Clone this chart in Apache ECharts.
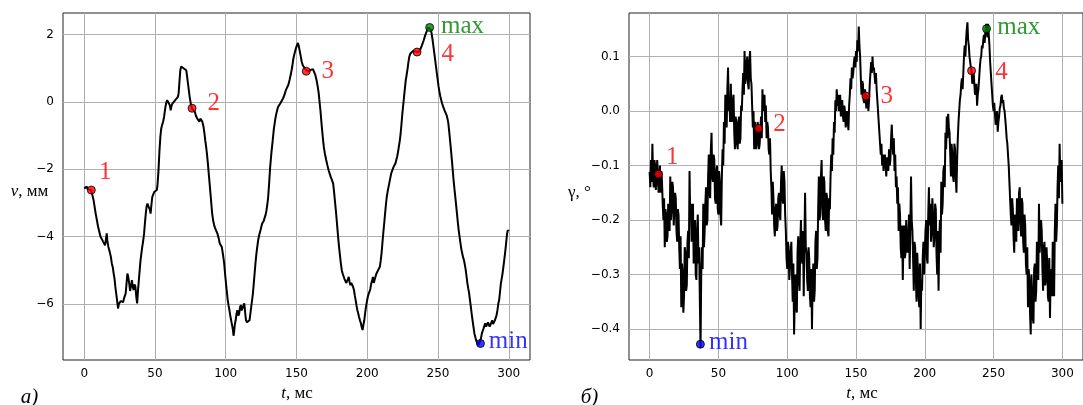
<!DOCTYPE html>
<html><head><meta charset="utf-8">
<script src="https://cdn.jsdelivr.net/npm/echarts@6/dist/echarts.min.js"></script>
<style>html,body{margin:0;padding:0;background:#fff}#c{width:1083px;height:405px}</style>
</head><body><div id="c"></div>
<script>
// ---------- DATA ----------
const xTicks = [0, 50, 100, 150, 200, 250, 300];
const leftYTicks = [-6, -4, -2, 0, 2];
const rightYTicks = [-0.4, -0.3, -0.2, -0.1, 0.0, 0.1];

// left panel: v (mm) vs t (ms)
const leftT = [0,1,1.8,2.5,3.2,4.9,6.6,8.1,9.8,11.5,12.5,13.4,14.2,14.7,15.3,15.9,16.4,17.1,18.0,18.8,19.5,20.2,20.8,21.4,22.0,22.6,23.2,23.9,24.5,25.2,25.8,26.9,27.5,28.1,28.8,29.3,29.9,30.5,31.1,31.8,32.4,33.0,33.7,34.3,34.9,35.5,36.2,36.8,37.4,38.0,38.6,39.2,39.8,40.4,41.0,41.6,42.3,42.9,43.5,44.1,44.7,45.3,45.9,46.4,46.9,47.5,48.1,48.8,49.6,50.4,51.3,51.8,52.5,53.1,53.8,54.4,55.0,55.7,56.4,56.9,57.4,58.0,58.6,59.3,59.9,60.5,61.1,61.7,62.3,63.3,64.3,65.5,66.2,66.7,67.3,67.9,68.5,69.1,69.8,70.4,71.2,72.1,72.7,73.3,73.9,74.5,75.3,76.2,77.2,78.2,79.0,79.9,80.6,81.4,82.0,82.6,83.4,84.3,84.9,85.5,86.1,86.7,87.3,88.0,88.6,89.2,89.8,90.4,91.2,92.1,93.1,94.1,95.0,95.8,96.5,97.2,98.0,98.9,99.5,100.2,100.8,101.4,102.0,102.6,103.2,103.8,104.4,105.1,105.5,105.8,106.4,107.0,107.6,108.2,108.9,109.5,110.1,110.7,111.3,111.9,112.5,113.1,113.7,114.3,115.0,115.6,116.2,116.8,117.4,118.0,118.6,119.2,119.8,120.4,121.0,121.7,122.3,122.9,123.7,124.6,125.2,125.8,126.7,127.5,128.2,128.8,129.4,130.0,130.7,131.4,132.3,133.2,134.0,134.9,135.6,136.3,137.0,137.6,138.5,139.3,140.2,141.0,141.8,142.5,143.4,144.2,145.1,146.1,147.0,147.8,148.7,149.5,150.3,151.0,151.6,152.2,153.0,153.7,154.5,155.2,156.2,157.1,158.1,159.1,160.0,160.8,161.6,162.5,163.3,164.2,165.0,165.7,166.3,166.9,167.5,168.1,168.7,169.3,170.1,171.0,171.8,172.7,173.5,174.2,175.0,175.9,176.5,177.1,177.8,178.4,179.0,179.6,180.2,180.8,181.4,182.0,182.6,183.2,183.8,184.5,185.1,185.7,186.3,186.9,187.5,188.1,188.7,189.3,190.0,190.6,191.2,191.8,192.4,193.0,193.6,194.2,194.9,195.5,196.1,196.7,197.3,197.9,198.5,199.1,199.8,200.4,201.0,201.6,202.2,202.8,203.4,204.0,204.6,205.2,205.9,206.5,207.1,207.7,208.3,208.9,209.5,210.1,210.7,211.3,212.0,212.6,213.2,213.8,214.6,215.5,216.2,216.9,217.8,218.6,219.2,219.9,220.5,221.1,221.7,222.3,223.0,223.6,224.2,224.8,225.4,226.0,226.6,227.2,227.9,228.5,229.1,229.7,230.5,231.4,232.4,233.4,234.3,235.1,235.8,236.5,237.4,238.2,239.0,239.9,240.6,241.4,242.2,243.1,243.7,244.3,244.9,245.5,246.2,246.8,247.4,248.0,248.6,249.2,249.8,250.4,251.0,251.7,252.3,252.9,253.7,254.6,255.3,256.1,256.7,257.3,257.9,258.5,259.2,259.8,260.4,261.0,261.6,262.2,262.8,263.4,264.0,264.6,265.2,265.9,266.5,267.1,267.7,268.3,269.0,269.6,270.2,270.8,271.4,272.0,272.6,273.2,273.8,274.4,275.1,275.7,276.3,276.9,277.5,278.1,278.7,279.3,279.8,280.4,281.0,281.6,282.2,282.8,283.4,284.0,284.6,285.3,285.9,286.5,287.1,287.7,288.3,288.9,289.5,290.1,290.7,291.3,292.0,292.6,293.2,293.8,294.4,295.0,295.6,296.2,296.8,297.5,298.1,298.7,299.3,300.0];
const leftV = [-2.57,-2.55,-2.52,-2.60,-2.55,-2.62,-2.92,-3.32,-3.71,-4.01,-4.08,-4.16,-4.12,-4.26,-4.10,-3.91,-4.15,-4.31,-4.45,-4.60,-4.80,-4.92,-5.10,-5.25,-5.50,-5.70,-5.89,-6.14,-6.00,-5.99,-5.92,-5.89,-5.95,-5.84,-5.80,-5.69,-5.40,-5.10,-5.20,-5.40,-5.62,-5.59,-5.30,-5.50,-5.59,-5.42,-5.50,-5.80,-5.99,-5.60,-5.30,-5.00,-4.70,-4.50,-4.31,-4.15,-3.91,-3.60,-3.32,-3.10,-3.02,-3.10,-3.07,-3.20,-3.32,-3.05,-2.82,-2.75,-2.67,-2.66,-2.62,-2.45,-2.03,-1.50,-1.04,-0.80,-0.69,-0.60,-0.45,-0.30,-0.15,-0.02,0.05,0.06,0.07,-0.10,-0.25,-0.12,-0.05,0.00,0.05,0.10,0.15,0.25,0.60,0.94,1.05,1.09,1.02,0.99,0.97,0.94,0.75,0.55,0.35,0.15,-0.05,-0.20,-0.25,-0.30,-0.42,-0.50,-0.55,-0.59,-0.50,-0.45,-0.58,-0.74,-0.92,-1.14,-1.32,-1.53,-1.80,-2.13,-2.42,-2.72,-3.02,-3.32,-3.55,-3.71,-3.82,-3.91,-4.05,-4.21,-4.26,-4.31,-4.52,-4.80,-5.10,-5.40,-5.65,-5.89,-6.05,-6.19,-6.35,-6.49,-6.62,-6.78,-6.95,-6.88,-6.62,-6.49,-6.30,-6.19,-6.35,-6.29,-6.10,-6.04,-6.20,-6.24,-6.05,-5.99,-6.25,-6.49,-6.55,-6.58,-6.60,-6.49,-6.30,-6.09,-5.90,-5.69,-5.40,-5.10,-4.80,-4.50,-4.30,-4.11,-3.95,-3.81,-3.70,-3.61,-3.55,-3.51,-3.35,-3.22,-3.05,-2.82,-2.40,-1.93,-1.50,-1.14,-0.80,-0.54,-0.38,-0.25,-0.15,-0.10,-0.05,0.00,0.08,0.15,0.25,0.35,0.43,0.50,0.65,0.84,1.05,1.29,1.45,1.58,1.68,1.75,1.66,1.53,1.35,1.19,1.08,1.04,0.98,0.93,0.90,0.89,0.95,0.99,0.97,0.94,0.80,0.64,0.45,0.25,0.00,-0.25,-0.55,-0.84,-1.10,-1.34,-1.55,-1.73,-1.88,-2.03,-2.14,-2.23,-2.32,-2.43,-2.65,-2.92,-3.22,-3.51,-3.81,-4.11,-4.36,-4.60,-4.82,-5.00,-5.10,-5.15,-5.25,-5.20,-5.38,-5.35,-5.28,-5.20,-5.35,-5.45,-5.38,-5.40,-5.50,-5.59,-5.75,-5.89,-6.05,-6.19,-6.28,-6.39,-6.50,-6.58,-6.70,-6.78,-6.62,-6.49,-6.28,-6.09,-5.92,-5.79,-5.70,-5.64,-5.55,-5.40,-5.32,-5.20,-5.38,-5.35,-5.18,-5.10,-5.05,-5.00,-4.95,-4.90,-4.72,-4.50,-4.20,-3.91,-3.60,-3.32,-3.05,-2.82,-2.62,-2.43,-2.28,-2.13,-2.02,-1.93,-1.88,-1.83,-1.73,-1.63,-1.50,-1.34,-1.15,-0.94,-0.65,-0.35,-0.10,0.15,0.40,0.64,0.82,0.99,1.18,1.34,1.44,1.49,1.51,1.52,1.50,1.48,1.47,1.49,1.55,1.63,1.72,1.83,1.93,2.03,2.12,2.21,2.22,2.23,2.14,2.03,1.83,1.63,1.44,1.24,1.04,0.84,0.65,0.45,0.30,0.15,0.05,-0.05,-0.15,-0.25,-0.32,-0.40,-0.50,-0.64,-0.88,-1.14,-1.45,-1.73,-2.03,-2.33,-2.58,-2.82,-3.07,-3.32,-3.58,-3.81,-4.00,-4.21,-4.38,-4.50,-4.62,-4.70,-4.85,-5.00,-5.20,-5.40,-5.55,-5.69,-5.90,-6.09,-6.30,-6.49,-6.70,-6.88,-6.98,-7.08,-7.15,-7.18,-7.22,-7.20,-7.18,-7.02,-6.88,-6.80,-6.73,-6.65,-6.58,-6.68,-6.63,-6.55,-6.53,-6.68,-6.63,-6.55,-6.49,-6.60,-6.58,-6.50,-6.49,-6.35,-6.19,-6.00,-5.89,-5.65,-5.40,-5.25,-5.10,-4.90,-4.70,-4.45,-4.21,-3.95,-3.81,-3.85];

// right panel: gamma (deg) sampled every 0.5 ms from t = 0
const rightStep = 0.5;
const rightG = [
-0.112,-0.14,-0.09,-0.13,-0.06,-0.12,-0.14,-0.09,-0.10,-0.145,-0.13,-0.09,-0.116,-0.15,-0.12,-0.10,-0.15,-0.11,-0.13,-0.17,
-0.20,-0.16,-0.25,-0.18,-0.19,-0.24,-0.23,-0.17,-0.17,-0.22,-0.12,-0.20,-0.18,-0.13,-0.14,-0.21,-0.21,-0.15,-0.16,-0.22,
-0.24,-0.18,-0.19,-0.25,-0.29,-0.23,-0.36,-0.28,-0.30,-0.37,-0.34,-0.25,-0.26,-0.33,-0.32,-0.24,-0.22,-0.27,-0.11,-0.20,
-0.17,-0.24,-0.22,-0.17,-0.28,-0.21,-0.20,-0.30,-0.31,-0.22,-0.19,-0.28,-0.25,-0.35,-0.435,-0.30,-0.25,-0.29,-0.17,-0.25,
-0.22,-0.17,-0.14,-0.21,-0.20,-0.12,-0.08,-0.15,-0.16,-0.07,-0.04,-0.12,-0.13,-0.08,-0.09,-0.16,-0.17,-0.11,-0.10,-0.18,
-0.19,-0.11,-0.13,-0.19,-0.21,-0.12,-0.07,-0.10,-0.02,-0.06,0.03,-0.02,-0.03,0.04,0.08,0.00,0.02,-0.02,0.05,-0.01,
-0.02,0.02,0.03,-0.04,-0.07,-0.01,-0.02,-0.06,-0.07,-0.02,-0.01,-0.06,-0.05,0.01,0.00,0.04,0.07,0.03,0.11,0.05,
0.06,0.09,0.10,0.05,0.04,0.09,0.11,0.06,0.05,0.01,-0.03,0.00,-0.07,-0.02,-0.03,-0.07,-0.06,-0.02,-0.032,-0.07,
-0.06,-0.03,-0.01,-0.05,0.04,0.00,0.02,0.03,-0.02,0.01,-0.05,-0.02,-0.03,-0.07,-0.08,-0.05,-0.11,-0.14,-0.19,-0.13,
-0.16,-0.21,-0.23,-0.18,-0.17,-0.22,-0.21,-0.16,-0.15,-0.19,-0.20,-0.13,-0.10,-0.16,-0.17,-0.11,-0.13,-0.19,-0.22,-0.27,
-0.29,-0.24,-0.25,-0.31,-0.31,-0.26,-0.24,-0.30,-0.35,-0.28,-0.41,-0.34,-0.30,-0.36,-0.37,-0.26,-0.23,-0.31,-0.33,-0.24,
-0.20,-0.27,-0.28,-0.22,-0.34,-0.24,-0.15,-0.25,-0.26,-0.31,-0.33,-0.25,-0.27,-0.34,-0.36,-0.29,-0.40,-0.31,-0.28,-0.35,
-0.33,-0.24,-0.22,-0.29,-0.27,-0.18,-0.12,-0.20,-0.19,-0.12,-0.09,-0.17,-0.20,-0.12,-0.13,-0.20,-0.22,-0.15,-0.16,-0.22,
-0.23,-0.16,-0.18,-0.12,-0.08,-0.11,-0.05,-0.08,-0.02,-0.04,0.02,0.00,0.04,0.01,0.03,0.00,0.01,0.03,-0.01,0.01,
0.02,-0.01,-0.02,0.01,0.00,-0.03,-0.03,0.00,-0.02,-0.035,0.01,0.03,0.06,0.04,0.08,0.06,0.07,0.09,0.10,0.08,
0.11,0.09,0.13,0.11,0.155,0.12,0.10,0.06,0.03,0.055,0.05,0.02,0.015,0.04,0.03,0.005,0.01,0.03,0.00,0.02,
0.05,0.07,0.09,0.07,0.10,0.075,0.08,0.065,0.05,0.07,0.04,0.02,0.00,-0.02,-0.04,-0.06,-0.08,-0.06,-0.10,-0.08,
-0.11,-0.09,-0.08,-0.10,-0.12,-0.085,-0.09,-0.11,-0.07,-0.10,-0.09,-0.05,-0.025,-0.06,-0.08,-0.05,-0.11,-0.08,-0.14,-0.12,
-0.17,-0.14,-0.22,-0.17,-0.19,-0.25,-0.27,-0.21,-0.31,-0.24,-0.21,-0.27,-0.26,-0.20,-0.20,-0.26,-0.25,-0.19,-0.29,-0.21,
-0.12,-0.20,-0.22,-0.27,-0.33,-0.24,-0.25,-0.31,-0.35,-0.26,-0.29,-0.34,-0.36,-0.28,-0.40,-0.31,-0.33,-0.27,-0.24,-0.30,
-0.30,-0.22,-0.20,-0.27,-0.28,-0.19,-0.14,-0.21,-0.17,-0.24,-0.22,-0.16,-0.19,-0.25,-0.23,-0.17,-0.18,-0.26,-0.30,-0.22,
-0.33,-0.24,-0.20,-0.26,-0.13,-0.19,-0.17,-0.11,-0.10,-0.14,-0.04,-0.07,-0.01,-0.05,-0.005,-0.03,-0.04,-0.08,-0.12,-0.06,
-0.08,-0.12,-0.13,-0.06,-0.07,-0.12,-0.15,-0.09,-0.05,-0.02,0.00,0.02,0.03,0.05,0.06,0.04,0.07,0.10,0.12,0.10,
0.13,0.15,0.163,0.13,0.12,0.10,0.09,0.08,0.074,0.05,0.06,0.07,0.05,0.03,0.035,0.05,0.01,0.03,0.04,0.06,
0.08,0.095,0.10,0.12,0.115,0.13,0.14,0.125,0.145,0.16,0.151,0.135,0.16,0.14,0.12,0.09,0.07,0.05,0.03,0.01,
0.00,0.015,-0.005,-0.025,-0.02,0.00,-0.038,-0.02,-0.01,0.005,0.01,0.025,0.03,0.015,0.02,0.005,0.00,-0.015,-0.03,-0.05,
-0.06,-0.08,-0.10,-0.13,-0.16,-0.19,-0.21,-0.16,-0.18,-0.23,-0.26,-0.19,-0.20,-0.24,-0.16,-0.21,-0.22,-0.15,-0.14,-0.20,
-0.23,-0.16,-0.17,-0.24,-0.26,-0.19,-0.21,-0.28,-0.30,-0.25,-0.36,-0.29,-0.31,-0.37,-0.41,-0.30,-0.33,-0.38,-0.39,-0.29,
-0.28,-0.35,-0.33,-0.24,-0.25,-0.31,-0.17,-0.26,-0.26,-0.20,-0.22,-0.29,-0.33,-0.25,-0.24,-0.32,-0.31,-0.25,-0.28,-0.34,
-0.35,-0.27,-0.38,-0.30,-0.29,-0.34,-0.24,-0.31,-0.34,-0.22,-0.17,-0.24,-0.21,-0.14,-0.10,-0.16,-0.06,-0.12,-0.13,-0.09,
-0.17];

// marked points
const markLabels = ['1', '2', '3', '4', 'max', 'min'];
const leftMarkT = [5.0, 76.2, 156.9, 235.2, 244.1, 280.0];
const leftMarkV = [-2.62, -0.19, 0.91, 1.48, 2.21, -7.18];
const rightMarkT = [6.4, 79.2, 157.2, 234.0, 244.9, 36.9];
const rightMarkG = [-0.116, -0.032, 0.0275, 0.074, 0.151, -0.428];

// ---------- STYLE / LAYOUT ----------
const markFill = ['#ff0000', '#ff0000', '#ff0000', '#ff0000', '#008000', '#0000ff'];
const leftOffsets  = [[14, -18], [21.6, -4.7], [21.5, 0], [30.8, 2.5], [11.4, -1.3], [8.3, -2.4]];
const rightOffsets = [[13.8, -17.3], [20.8, -4.1], [20.8, 0], [30, 1.4], [10.7, -1.3], [8.7, -1.7]];
const tickFont = 'DejaVu Sans';
const serif = 'Liberation Serif';

function minusFmt(s) { return s.replace('-', '\u2212'); }

function markData(ts, vs, offs) {
  return ts.map((t, i) => {
    const word = markLabels[i].length > 1;
    return {
      value: [t, vs[i]],
      itemStyle: { color: markFill[i], borderColor: '#000', borderWidth: 1 },
      label: {
        show: true, position: 'inside', formatter: markLabels[i],
        color: markFill[i], fontFamily: serif, fontSize: 25,
        align: word ? 'left' : 'center', verticalAlign: 'middle',
        offset: offs[i]
      }
    };
  });
}

function xAxisCfg(idx) {
  return {
    type: 'value', gridIndex: idx, min: -15, max: 315,
    axisLine: { show: false },
    axisTick: { show: false, customValues: xTicks },
    axisLabel: { customValues: xTicks, fontFamily: tickFont, fontSize: 12, color: '#000', margin: 8,
                 formatter: v => minusFmt(String(v)) },
    splitLine: { show: true, lineStyle: { color: '#b0b0b0', width: 1 } }
  };
}

const chart = echarts.init(document.getElementById('c'), null, { renderer: 'canvas' });
chart.setOption({
  animation: false,
  backgroundColor: '#fff',
  grid: [
    { left: 63, top: 13, width: 467, height: 347, show: true, borderColor: '#222', borderWidth: 1, backgroundColor: 'transparent' },
    { left: 629, top: 13, width: 465, height: 347, show: true, borderColor: '#222', borderWidth: 1, backgroundColor: 'transparent' }
  ],
  xAxis: [xAxisCfg(0), xAxisCfg(1)],
  yAxis: [
    { type: 'value', gridIndex: 0, min: -7.67, max: 2.64,
      axisLine: { show: false },
      axisTick: { show: false, customValues: leftYTicks },
      axisLabel: { customValues: leftYTicks, fontFamily: tickFont, fontSize: 12, color: '#000', margin: 9,
                   formatter: v => minusFmt(String(v)) },
      splitLine: { show: true, lineStyle: { color: '#b0b0b0', width: 1 } } },
    { type: 'value', gridIndex: 1, min: -0.457, max: 0.18,
      axisLine: { show: false },
      axisTick: { show: false, customValues: rightYTicks },
      axisLabel: { customValues: rightYTicks, fontFamily: tickFont, fontSize: 12, color: '#000', margin: 9,
                   formatter: v => minusFmt((Math.round(v * 10) / 10).toFixed(1)) },
      splitLine: { show: true, lineStyle: { color: '#b0b0b0', width: 1 } } }
  ],
  series: [
    { type: 'line', xAxisIndex: 0, yAxisIndex: 0, data: leftT.map((t, i) => [t, leftV[i]]),
      showSymbol: false, symbol: 'none', lineStyle: { color: '#000', width: 2 }, z: 2 },
    { type: 'line', xAxisIndex: 1, yAxisIndex: 1, data: rightG.map((g, i) => [i * rightStep, g]),
      showSymbol: false, symbol: 'none', sampling: null, lineStyle: { color: '#000', width: 2 }, z: 2 },
    { type: 'scatter', xAxisIndex: 0, yAxisIndex: 0, symbolSize: 8, z: 5,
      data: markData(leftMarkT, leftMarkV, leftOffsets) },
    { type: 'scatter', xAxisIndex: 1, yAxisIndex: 1, symbolSize: 8, z: 5,
      data: markData(rightMarkT, rightMarkG, rightOffsets) }
  ],
  graphic: [
    { type: 'text', x: 29.5, y: 192, style: { text: '{i|v}, мм', fontFamily: serif, fontSize: 17, fill: '#000',
      align: 'center', verticalAlign: 'middle', textAlign: 'center', textVerticalAlign: 'middle',
      rich: { i: { fontStyle: 'italic', fontFamily: serif, fontSize: 17, fill: '#000', color: '#000' } } } },
    { type: 'text', x: 297, y: 394, style: { text: '{i|t}, мс', fontFamily: serif, fontSize: 17, fill: '#000',
      align: 'center', verticalAlign: 'middle', textAlign: 'center', textVerticalAlign: 'middle',
      rich: { i: { fontStyle: 'italic', fontFamily: serif, fontSize: 17, fill: '#000', color: '#000' } } } },
    { type: 'text', x: 29.5, y: 397, style: { text: 'а)', fontFamily: serif, fontStyle: 'italic', fontSize: 21, fill: '#000',
      align: 'center', verticalAlign: 'middle', textAlign: 'center', textVerticalAlign: 'middle' } },
    { type: 'text', x: 579.5, y: 192.5, style: { text: 'γ, °', fontFamily: serif, fontSize: 17, fill: '#000',
      align: 'center', verticalAlign: 'middle', textAlign: 'center', textVerticalAlign: 'middle' } },
    { type: 'text', x: 862, y: 394, style: { text: '{i|t}, мс', fontFamily: serif, fontSize: 17, fill: '#000',
      align: 'center', verticalAlign: 'middle', textAlign: 'center', textVerticalAlign: 'middle',
      rich: { i: { fontStyle: 'italic', fontFamily: serif, fontSize: 17, fill: '#000', color: '#000' } } } },
    { type: 'text', x: 589.5, y: 397, style: { text: 'б)', fontFamily: serif, fontStyle: 'italic', fontSize: 21, fill: '#000',
      align: 'center', verticalAlign: 'middle', textAlign: 'center', textVerticalAlign: 'middle' } }
  ]
});
</script></body></html>
